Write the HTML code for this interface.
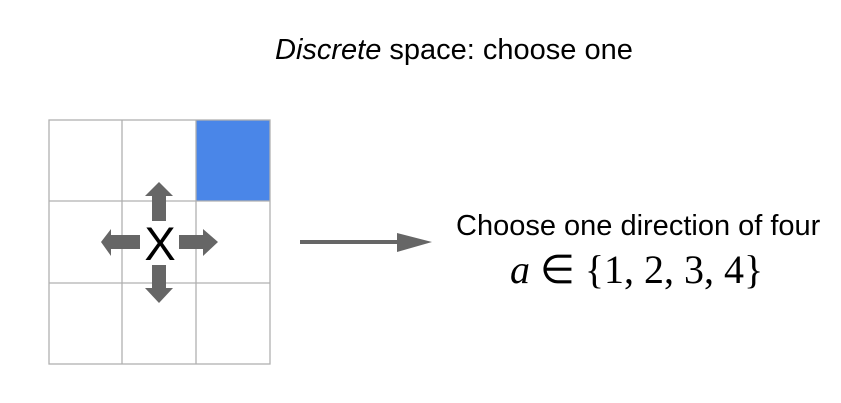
<!DOCTYPE html>
<html><head><meta charset="utf-8"><style>
body{margin:0;width:841px;height:403px;background:#fff;overflow:hidden;position:relative;font-family:"Liberation Sans",sans-serif}
.t{position:absolute;white-space:nowrap;color:#000;line-height:1}
</style></head><body>
<div class="t" style="left:275px;top:36px;font-size:29px"><i>Discrete</i> space: choose one</div>
<svg width="841" height="403" style="position:absolute;left:0;top:0">
<rect x="196" y="120" width="74" height="81" fill="#4a86e8"/>
<g stroke="#b0b0b0" stroke-width="1.3" fill="none">
<rect x="49" y="120" width="221" height="244"/>
<line x1="122" y1="120" x2="122" y2="364"/><line x1="196" y1="120" x2="196" y2="364"/>
<line x1="49" y1="201" x2="270" y2="201"/><line x1="49" y1="283" x2="270" y2="283"/>
</g>
<g fill="#666">
<polygon points="159,182 173,196 166,196 166,221 152,221 152,196 145,196"/>
<polygon points="159,303 173,288 166,288 166,265 152,265 152,288 145,288"/>
<polygon points="101,242 111,229 111,235 140,235 140,249 111,249 111,256"/>
<polygon points="218,242 203,229 203,235 179,235 179,249 203,249 203,256"/>
<rect x="300" y="240" width="100" height="4"/>
<polygon points="397,233 432,242 397,252"/>
</g>
<text x="160" y="260" font-size="47" text-anchor="middle" font-family="Liberation Sans">X</text>
</svg>
<div class="t" style="left:456px;top:212px;font-size:29px">Choose one direction of four</div>
<div class="t" style="left:510px;top:250px;font-size:40px;font-family:'Liberation Serif',serif"><i>a</i> ∈ {1, 2, 3, 4}</div>
</body></html>
